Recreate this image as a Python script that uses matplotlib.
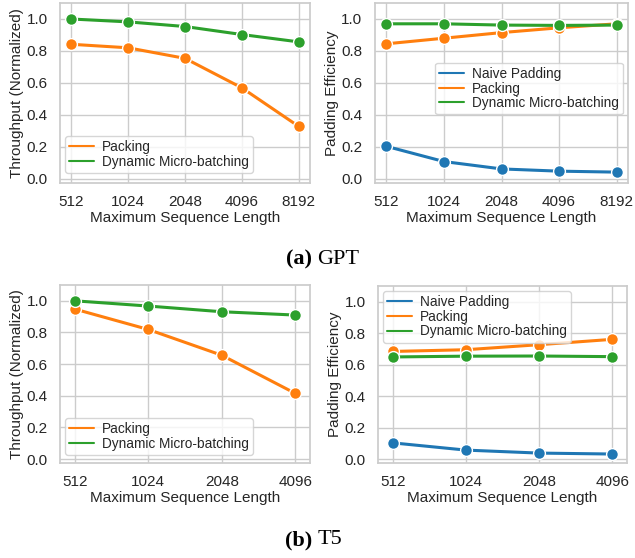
import matplotlib
matplotlib.use("Agg")
import matplotlib.pyplot as plt
import seaborn as sns
from matplotlib.lines import Line2D

sns.set_theme(style="whitegrid")
plt.rcParams['font.family'] = ['Liberation Sans', 'DejaVu Sans']

# Data
gpt_lengths = ["512", "1024", "2048", "4096", "8192"]
gpt_tp_packing = [0.842, 0.820, 0.754, 0.570, 0.329]
gpt_tp_dmb = [1.0, 0.982, 0.953, 0.903, 0.857]
gpt_eff_naive = [0.204, 0.109, 0.063, 0.049, 0.043]
gpt_eff_packing = [0.845, 0.880, 0.915, 0.945, 0.970]
gpt_eff_dmb = [0.970, 0.970, 0.962, 0.960, 0.962]

t5_lengths = ["512", "1024", "2048", "4096"]
t5_tp_packing = [0.948, 0.819, 0.656, 0.415]
t5_tp_dmb = [1.0, 0.967, 0.931, 0.910]
t5_eff_naive = [0.103, 0.057, 0.038, 0.032]
t5_eff_packing = [0.684, 0.695, 0.727, 0.761]
t5_eff_dmb = [0.649, 0.654, 0.655, 0.651]

series_names = ["Naive Padding", "Packing", "Dynamic Micro-batching"]
colors = {"Naive Padding": "#1f77b4", "Packing": "#ff7f0e", "Dynamic Micro-batching": "#2ca02c"}

W, H = 635, 558
fig = plt.figure(figsize=(W / 100, H / 100), dpi=100)

def add_ax(left, right, top, bottom):
    return fig.add_axes([left / W, (H - bottom) / H, (right - left) / W, (bottom - top) / H])

FS = 11

def draw(ax, lengths, series, ylabel, legend_loc, bbox):
    x = list(range(len(lengths)))
    for name, vals in series:
        ax.plot(x, vals, color=colors[name], lw=2.2, marker='o', ms=8.5,
                markeredgecolor='white', markeredgewidth=1)
    ax.set_xticks(x)
    ax.set_xticklabels(lengths)
    ax.set_ylim(-0.025, 1.1)
    ax.set_yticks([0, 0.2, 0.4, 0.6, 0.8, 1.0])
    ax.set_xlim(-0.2, len(lengths) - 1 + 0.2)
    ax.tick_params(labelsize=FS, pad=3)
    ax.set_xlabel("Maximum Sequence Length", fontsize=FS, labelpad=1)
    ax.set_ylabel(ylabel, fontsize=FS, labelpad=2)
    handles = [Line2D([0], [0], color=colors[n], lw=1.5) for n, _ in series]
    ax.legend(handles, [n for n, _ in series], loc=legend_loc, bbox_to_anchor=bbox,
              fontsize=9.8, frameon=True, handlelength=1.8, labelspacing=0.05,
              borderpad=0.3, handletextpad=0.6, borderaxespad=0.0)

ax1 = add_ax(60, 310, 3, 183)
draw(ax1, gpt_lengths, [("Packing", gpt_tp_packing), ("Dynamic Micro-batching", gpt_tp_dmb)],
     "Throughput (Normalized)", "lower left", (5 / 250, 10 / 180))

ax2 = add_ax(375, 628, 3, 183)
draw(ax2, gpt_lengths, [("Naive Padding", gpt_eff_naive), ("Packing", gpt_eff_packing),
                        ("Dynamic Micro-batching", gpt_eff_dmb)],
     "Padding Efficiency", "center right", (248 / 253, 0.525))

ax3 = add_ax(60, 310, 285, 463)
draw(ax3, t5_lengths, [("Packing", t5_tp_packing), ("Dynamic Micro-batching", t5_tp_dmb)],
     "Throughput (Normalized)", "lower left", (5 / 250, 8 / 178))

ax4 = add_ax(378, 627, 286, 463)
draw(ax4, t5_lengths, [("Naive Padding", t5_eff_naive), ("Packing", t5_eff_packing),
                       ("Dynamic Micro-batching", t5_eff_dmb)],
     "Padding Efficiency", "upper left", (5 / 249, 1 - 5 / 177))

cap_font = ['Liberation Serif', 'DejaVu Serif']
def caption(y, tag, name):
    fig.text(0.5, 1 - y / H, tag + " ", ha='right', va='center', fontsize=16,
             fontweight='bold', family=cap_font, color='black')
    fig.text(0.5, 1 - y / H, name, ha='left', va='center', fontsize=16,
             family=cap_font, color='black')

caption(259, "(a)", "GPT")
caption(540, "(b)", "T5")

fig.savefig("out.png", dpi=100)
